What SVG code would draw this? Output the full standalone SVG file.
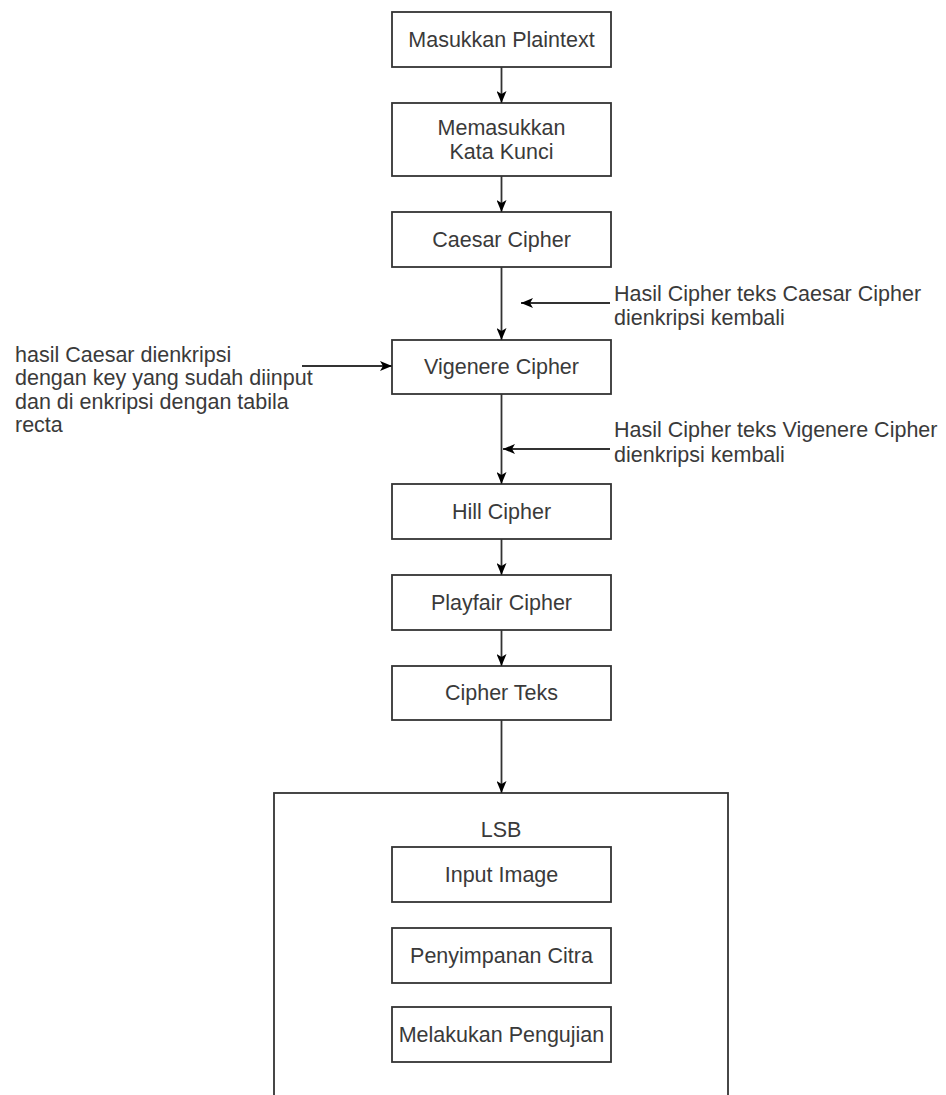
<svg xmlns="http://www.w3.org/2000/svg" width="946" height="1095" viewBox="0 0 946 1095">
<style>
.box{fill:#fff;stroke:#333;stroke-width:1.8}
.t{font-family:"Liberation Sans",Arial,sans-serif;font-size:21.5px;fill:#3a3a3a}
.c{text-anchor:middle}
.ln{stroke:#333;stroke-width:1.8;fill:none}
</style>
<defs>
<marker id="ah" viewBox="0 0 12 10" refX="12" refY="5" markerWidth="12" markerHeight="10" markerUnits="userSpaceOnUse" orient="auto">
<path d="M0,0 L12,5 L0,10 L3,5 z" fill="#000"/>
</marker>
</defs>
<rect width="946" height="1095" fill="#fff"/>
<g id="lsb">
<rect class="box" x="274" y="793" width="454" height="330"/>
<text class="t c" x="501" y="837">LSB</text>
</g>
<g id="n1"><rect class="box" x="392" y="12" width="219" height="55"/><text class="t c" x="501.5" y="47">Masukkan Plaintext</text></g>
<g id="n2"><rect class="box" x="392" y="103" width="219" height="73"/><text class="t c" x="501.5" y="135">Memasukkan</text><text class="t c" x="501.5" y="159">Kata Kunci</text></g>
<g id="n3"><rect class="box" x="392" y="212" width="219" height="55"/><text class="t c" x="501.5" y="247">Caesar Cipher</text></g>
<g id="n4"><rect class="box" x="392" y="340" width="219" height="54"/><text class="t c" x="501.5" y="374">Vigenere Cipher</text></g>
<g id="n5"><rect class="box" x="392" y="484" width="219" height="55"/><text class="t c" x="501.5" y="519">Hill Cipher</text></g>
<g id="n6"><rect class="box" x="392" y="575" width="219" height="55"/><text class="t c" x="501.5" y="610">Playfair Cipher</text></g>
<g id="n7"><rect class="box" x="392" y="666" width="219" height="54"/><text class="t c" x="501.5" y="700">Cipher Teks</text></g>
<g id="n8"><rect class="box" x="392" y="847" width="219" height="55"/><text class="t c" x="501.5" y="882">Input Image</text></g>
<g id="n9"><rect class="box" x="392" y="928" width="219" height="55"/><text class="t c" x="501.5" y="963">Penyimpanan Citra</text></g>
<g id="n10"><rect class="box" x="392" y="1007" width="219" height="55"/><text class="t c" x="501.5" y="1042">Melakukan Pengujian</text></g>
<g id="label1">
<text class="t" x="614" y="301">Hasil Cipher teks Caesar Cipher</text>
<text class="t" x="614" y="325">dienkripsi kembali</text>
</g>
<g id="label2">
<text class="t" x="614" y="437">Hasil Cipher teks Vigenere Cipher</text>
<text class="t" x="614" y="462">dienkripsi kembali</text>
</g>
<g id="label3">
<text class="t" x="15" y="362">hasil Caesar dienkripsi</text>
<text class="t" x="15" y="385">dengan key yang sudah diinput</text>
<text class="t" x="15" y="409">dan di enkripsi dengan tabila</text>
<text class="t" x="15" y="432">recta</text>
</g>
<g id="connectors">
<line class="ln" x1="501.5" y1="67" x2="501.5" y2="103" marker-end="url(#ah)"/>
<line class="ln" x1="501.5" y1="176" x2="501.5" y2="212" marker-end="url(#ah)"/>
<line class="ln" x1="501.5" y1="267" x2="501.5" y2="340" marker-end="url(#ah)"/>
<line class="ln" x1="501.5" y1="394" x2="501.5" y2="484" marker-end="url(#ah)"/>
<line class="ln" x1="501.5" y1="539" x2="501.5" y2="575" marker-end="url(#ah)"/>
<line class="ln" x1="501.5" y1="630" x2="501.5" y2="666" marker-end="url(#ah)"/>
<line class="ln" x1="501.5" y1="720" x2="501.5" y2="793" marker-end="url(#ah)"/>
<line class="ln" x1="610" y1="303" x2="521" y2="303" marker-end="url(#ah)"/>
<line class="ln" x1="610" y1="449" x2="503" y2="449" marker-end="url(#ah)"/>
<line class="ln" x1="302" y1="366" x2="392" y2="366" marker-end="url(#ah)"/>
</g>
</svg>
